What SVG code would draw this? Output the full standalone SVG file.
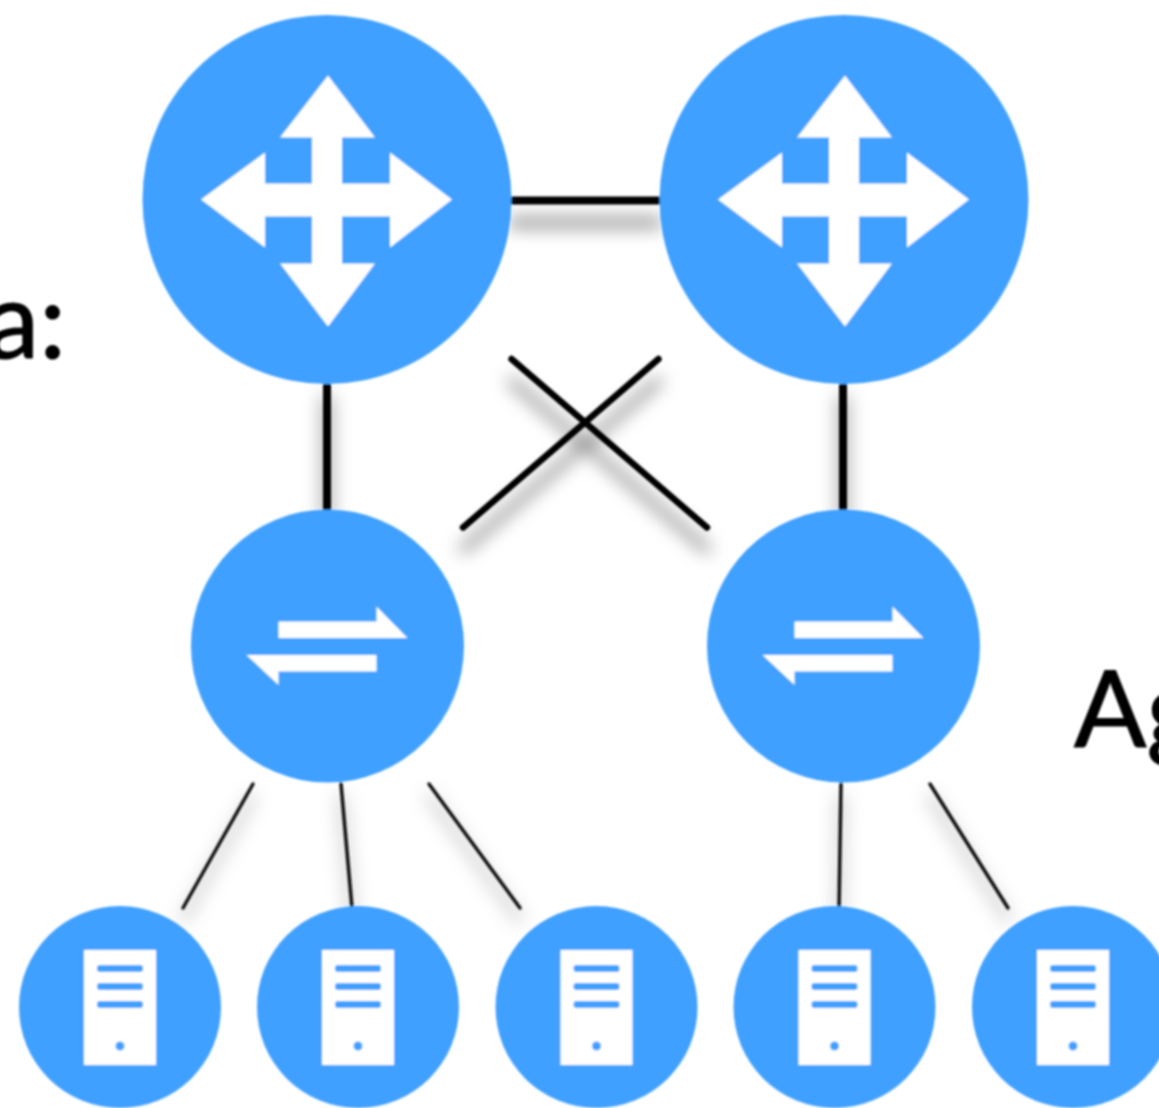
<svg xmlns="http://www.w3.org/2000/svg" width="1159" height="1108" viewBox="0 0 1159 1108">
<style>
.disc{fill:#41a0ff}
.icon{fill:#fff}
.thick{stroke:#000;stroke-width:8;stroke-linecap:butt;fill:none}
.mid{stroke:#000;stroke-width:6.5;stroke-linecap:round;fill:none}
.thin{stroke:#111;stroke-width:3.5;stroke-linecap:round;fill:none}
.lbl{font-family:"Lato","Liberation Sans",sans-serif;font-size:107px;fill:#000;stroke:#000;stroke-width:1.2}
</style>
<defs>
<filter id="soft" filterUnits="userSpaceOnUse" x="0" y="0" width="1159" height="1108">
<feGaussianBlur stdDeviation="0.8"/>
</filter>
<filter id="sh" filterUnits="userSpaceOnUse" x="0" y="0" width="1159" height="1108">
<feDropShadow dx="0" dy="22" stdDeviation="9" flood-color="#000" flood-opacity="0.6"/>
</filter>
<filter id="shs" filterUnits="userSpaceOnUse" x="0" y="0" width="1159" height="1108">
<feDropShadow dx="0" dy="12" stdDeviation="9" flood-color="#000" flood-opacity="0.5"/>
</filter>
<g id="core">
<circle class="disc" cx="0" cy="0" r="184.5"/>
<path class="icon" d="M1 -124 L48 -62 L15 -62 L15 -16 L63 -16 L63 -47 L125 0 L63 48 L63 17 L15 17 L15 64 L48 64 L1 127 L-47 64 L-15 64 L-15 17 L-62 17 L-62 48 L-126 0 L-62 -47 L-62 -16 L-15 -16 L-15 -62 L-47 -62 Z"/>
</g>
<g id="sw">
<circle class="disc" cx="0" cy="0" r="136.5"/>
<path class="icon" d="M-49 -24.500 L49 -24.500 L49 -39.500 L80 -8 L-49 -8 Z"/>
<path class="icon" d="M-81 9 L49 9 L49 25.500 L-49 25.500 L-49 39 Z"/>
</g>
<g id="srv">
<circle class="disc" cx="0" cy="0" r="101"/>
<rect class="icon" x="-36" y="-57" width="72" height="115"/>
<rect class="disc" x="-23" y="-42" width="46" height="7" rx="3"/>
<rect class="disc" x="-23" y="-24" width="46" height="7" rx="3"/>
<rect class="disc" x="-23" y="-6" width="46" height="7" rx="3"/>
<circle class="disc" cx="0" cy="39" r="4.500"/>
</g>
</defs>
<rect width="1159" height="1108" fill="#fff"/>
<g filter="url(#soft)">
<g id="connectors">
<line class="thick" x1="508" y1="200.500" x2="662" y2="200.500" filter="url(#sh)"/>
<line class="thick" x1="327" y1="384" x2="327" y2="512" filter="url(#shs)"/>
<line class="thick" x1="843" y1="384" x2="843" y2="512" filter="url(#shs)"/>
<g filter="url(#sh)">
<line class="mid" x1="511.500" y1="359" x2="707" y2="527.500"/>
<line class="mid" x1="658.500" y1="359" x2="463" y2="527.500"/>
</g>
<g filter="url(#shs)">
<line class="thin" x1="253" y1="784" x2="183" y2="908"/>
<line class="thin" x1="341" y1="784" x2="352" y2="908"/>
<line class="thin" x1="429" y1="784" x2="520" y2="908"/>
<line class="thin" x1="841" y1="784" x2="839" y2="908"/>
<line class="thin" x1="930" y1="784" x2="1008" y2="908"/>
</g>
</g>
<g id="core-1"><use href="#core" x="327" y="199.500"/></g>
<g id="core-2"><use href="#core" x="844" y="199.500"/></g>
<g id="agg-1"><use href="#sw" x="327.500" y="646"/></g>
<g id="agg-2"><use href="#sw" x="843.500" y="646"/></g>
<g id="server-1"><use href="#srv" x="120" y="1007"/></g>
<g id="server-2"><use href="#srv" x="358" y="1007"/></g>
<g id="server-3"><use href="#srv" x="596.500" y="1007"/></g>
<g id="server-4"><use href="#srv" x="834.500" y="1007"/></g>
<g id="server-5"><use href="#srv" x="1073" y="1007"/></g>
<text class="lbl" x="66" y="358" text-anchor="end">a:</text>
<text class="lbl" x="1074" y="747">Ag</text>
</g>
</svg>
